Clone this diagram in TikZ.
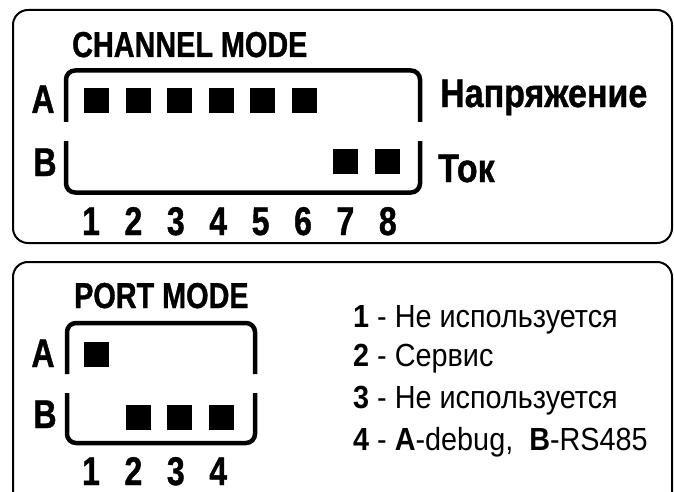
\documentclass[tikz,border=0pt]{standalone}
\usepackage{fontspec}
\newfontfamily\condbold{Liberation Sans Bold}[FakeStretch=0.8, FakeBold=1]
\newfontfamily\sidebold{Liberation Sans Bold}[FakeStretch=0.85, FakeBold=1]
\newfontfamily\legreg{Liberation Sans}[FakeStretch=0.9]
\newfontfamily\legbold{Liberation Sans Bold}[FakeStretch=0.9]
\tikzset{
  panel/.style={line width=2pt, rounded corners=15pt},
  bracket/.style={line width=4.5pt, rounded corners=9pt},
  led/.style={fill=black, draw=none, minimum width=25pt, minimum height=25pt, inner sep=0pt, outer sep=0pt},
  title/.style={inner sep=0pt, anchor=base west, font=\condbold\fontsize{36}{40}\selectfont},
  rowlbl/.style={inner sep=0pt, anchor=base, font=\condbold\fontsize{40}{44}\selectfont},
  numlbl/.style={inner sep=0pt, anchor=base, font=\condbold\fontsize{40}{44}\selectfont},
  sidelbl/.style={inner sep=0pt, anchor=base west, font=\sidebold\fontsize{40}{44}\selectfont},
  legend/.style={inner sep=0pt, anchor=base west, font=\legreg\fontsize{32}{36}\selectfont},
}
\begin{document}
\begin{tikzpicture}[x=1pt, y=-1pt]
\useasboundingbox (0,0) rectangle (674,492);
\begin{scope}
\clip (0,0) rectangle (674,492);

% ---------- channel mode panel ----------
\draw[panel] (13,10) rectangle (672,243);
\node[title] (chtitle) at (72,57) {CHANNEL MODE};

% switch bracket, open at the middle of each side
\draw[bracket] (66,122) -- (66,70.5) -- (420,70.5) -- (420,122);
\draw[bracket] (66,141) -- (66,192.5) -- (420,192.5) -- (420,141);

\node[rowlbl] (chA) at (43,113) {A};
\node[rowlbl] (chB) at (45,176) {B};

\foreach \i in {1,...,6}
  \node[led] (cha\i) at ({96.5+41.5*(\i-1)},100.5) {};
\foreach \i in {7,8}
  \node[led] (chb\i) at ({96.5+41.5*(\i-1)},161) {};

\foreach \i in {1,...,8}
  \node[numlbl] (chn\i) at ({91+42.4*(\i-1)},235) {\i};

\node[sidelbl] (volt) at (440,107) {Напряжение};
\node[sidelbl] (curr) at (438,182) {Ток};

% ---------- port mode panel ----------
\draw[panel] (13,262) rectangle (672,520);
\node[title] (pttitle) at (74,308) {PORT MODE};

\draw[bracket] (67,374) -- (67,323) -- (255,323) -- (255,374);
\draw[bracket] (67,393) -- (67,443) -- (255,443) -- (255,393);

\node[rowlbl] (ptA) at (43,367) {A};
\node[rowlbl] (ptB) at (45,428) {B};

\node[led] (pta1) at (96.5,354.5) {};
\foreach \i in {2,3,4}
  \node[led] (ptb\i) at ({96.5+41.5*(\i-1)},417.5) {};

\foreach \i in {1,...,4}
  \node[numlbl] (ptn\i) at ({91+42.4*(\i-1)},485) {\i};

\node[legend] (lg1) at (353,327) {{\legbold 1} - Не используется};
\node[legend] (lg2) at (353,366) {{\legbold 2} - Сервис};
\node[legend] (lg3) at (353,408) {{\legbold 3} - Не используется};
\node[legend] (lg4) at (353,450) {{\legbold 4} - {\legbold A}-debug,\enspace{\legbold B}-RS485};
\end{scope}
\end{tikzpicture}
\end{document}
